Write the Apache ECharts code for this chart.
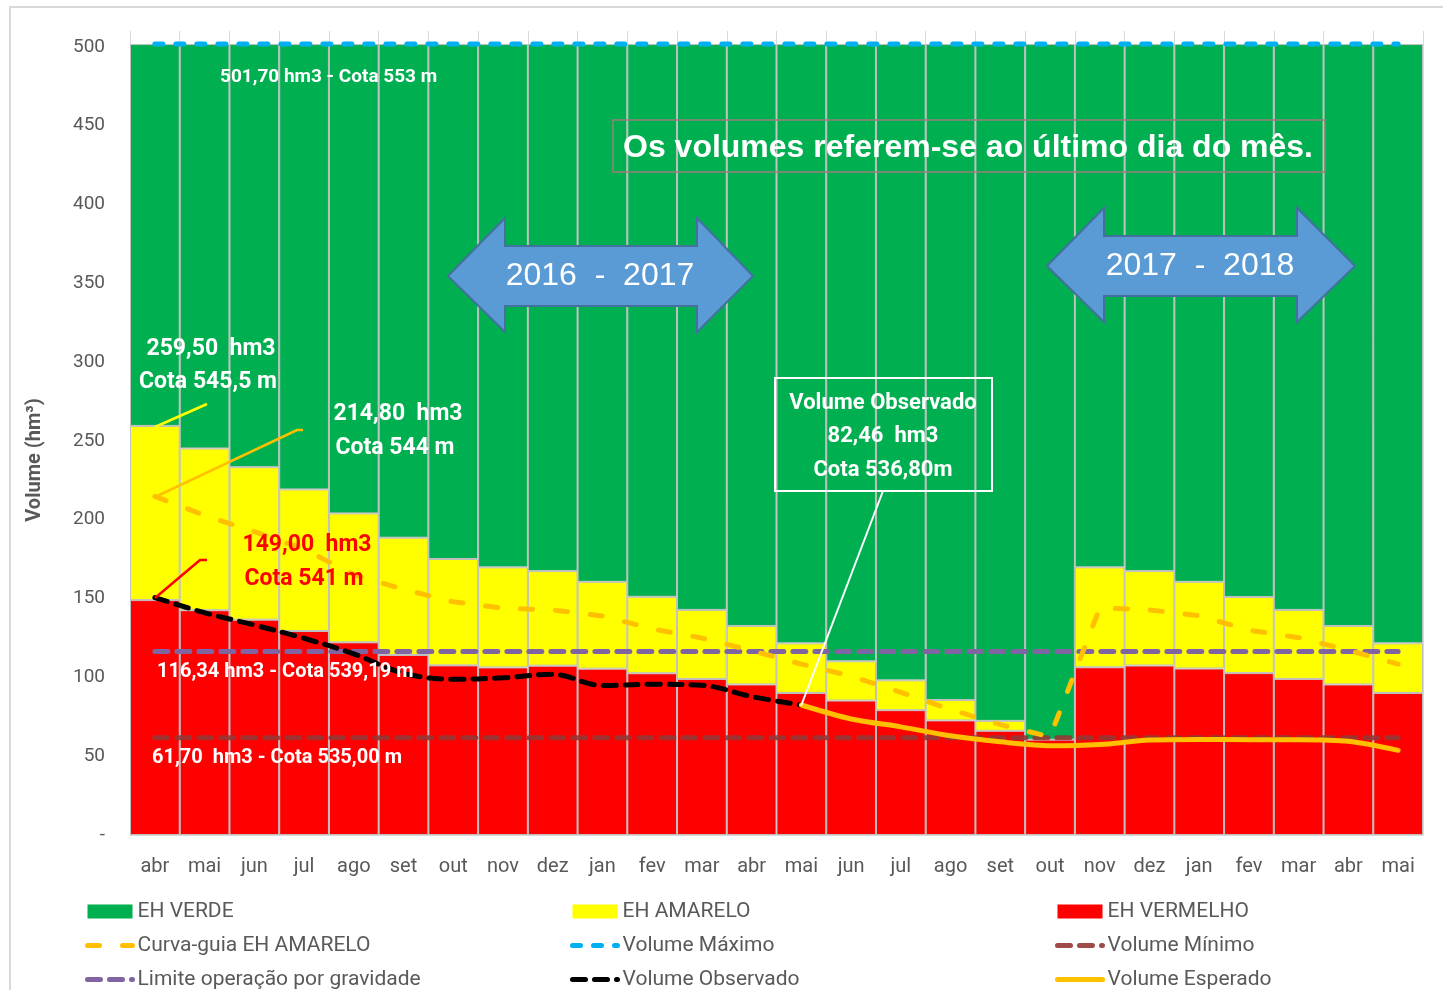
<!DOCTYPE html>
<html>
<head>
<meta charset="utf-8">
<script src="https://cdn.jsdelivr.net/npm/echarts@6/dist/echarts.min.js"></script>
<style>html,body{margin:0;padding:0;background:#fff}#c{width:1443px;height:990px}</style>
</head>
<body>
<div id="c"></div>
<script>
// ---- data ----
const months = ['abr','mai','jun','jul','ago','set','out','nov','dez','jan','fev','mar','abr','mai','jun','jul','ago','set','out','nov','dez','jan','fev','mar','abr','mai'];
// upper limit of the red zone (EH VERMELHO) per month, hm3
const redTop = [149.0,142.6,136.6,129.4,122.2,114.2,107.6,106.3,107.4,105.5,102.6,99.0,95.5,90.1,85.3,79.2,72.7,66.1,60.5,106.4,107.5,105.6,102.7,99.0,95.5,90.1];
// upper limit of the yellow zone (EH AMARELO) per month, hm3
const yellowTop = [259.5,245.2,233.3,219.2,204.0,188.6,175.1,169.8,167.4,160.6,151.1,142.8,132.6,121.6,110.2,98.1,85.6,72.4,60.5,169.8,167.4,160.6,151.0,142.8,132.6,121.6];
const maxVolume = 501.7;
const curvaGuia = [214.8,202.7,192.4,181.4,165.2,155.8,147.9,143.9,142.7,138.9,130.8,124.9,117.0,108.4,100.8,90.5,79.6,70.0,62.3,144.0,142.8,139.1,130.0,125.2,117.2,108.4];
const volMaximo = [501.7,501.7,501.7,501.7,501.7,501.7,501.7,501.7,501.7,501.7,501.7,501.7,501.7,501.7,501.7,501.7,501.7,501.7,501.7,501.7,501.7,501.7,501.7,501.7,501.7,501.7];
const volMinimo = [61.7,61.7,61.7,61.7,61.7,61.7,61.7,61.7,61.7,61.7,61.7,61.7,61.7,61.7,61.7,61.7,61.7,61.7,61.7,61.7,61.7,61.7,61.7,61.7,61.7,61.7];
const limiteGravidade = [116.34,116.34,116.34,116.34,116.34,116.34,116.34,116.34,116.34,116.34,116.34,116.34,116.34,116.34,116.34,116.34,116.34,116.34,116.34,116.34,116.34,116.34,116.34,116.34,116.34,116.34];
const volObservado = [150.6,141.0,133.2,124.8,114.9,102.6,98.8,99.7,102.0,94.8,95.6,95.0,87.8,82.46,null,null,null,null,null,null,null,null,null,null,null,null];
const volEsperado = [null,null,null,null,null,null,null,null,null,null,null,null,null,82.46,73.6,68.6,62.9,59.1,56.6,57.4,60.2,60.6,60.4,60.4,59.4,53.7];
const yTicks = {min: 0, max: 510, interval: 50};

// ---- derived stacks ----
const redSeg = redTop.slice();
const yellowSeg = yellowTop.map((v, i) => +(v - redTop[i]).toFixed(2));
const greenSeg = yellowTop.map(v => +(maxVolume - v).toFixed(2));

const FONT = 'Roboto, "Noto Sans", sans-serif';
const ARIAL = '"Liberation Sans", Arial, sans-serif';
const GREY = '#595959';
const chart = echarts.init(document.getElementById('c'), null, {renderer: 'canvas'});

function txt(text, x, y, fill, size, align, weight, family) {
  return {type: 'text', z: 60, x: x, y: y, style: {text: text, fill: fill,
    font: (weight || 'bold') + ' ' + size + 'px ' + (family || FONT),
    textAlign: align || 'left', textVerticalAlign: 'middle'}};
}
function poly(points, stroke, width) {
  return {type: 'polyline', z: 55, shape: {points: points}, style: {stroke: stroke, lineWidth: width, fill: null}};
}
function arrow(x1, x2, xb1, xb2, cy) {
  return {type: 'polygon', z: 55, shape: {points: [
    [x1, cy], [xb1, cy - 58], [xb1, cy - 30], [xb2, cy - 30], [xb2, cy - 58], [x2, cy],
    [xb2, cy + 56], [xb2, cy + 30], [xb1, cy + 30], [xb1, cy + 56]]},
    style: {fill: '#5B9BD5', stroke: '#41719C', lineWidth: 2}};
}

const barBase = {type: 'bar', stack: 'eh', barCategoryGap: '0%', z: 1};
const dashMain = [13, 9];
const lineNames = ['Curva-guia EH AMARELO', 'Limite operação por gravidade', 'Volume Máximo', 'Volume Observado', 'Volume Mínimo', 'Volume Esperado'];
function legendItems(names) {
  return names.map(n => lineNames.indexOf(n) >= 0
    ? {name: n, itemStyle: {opacity: 0}, lineStyle: {width: 5}}
    : {name: n, icon: 'rect', itemStyle: {borderWidth: 0}});
}
function legendCol(left, names) {
  return {orient: 'vertical', left: left, top: 901, padding: 0, height: 120,
    itemWidth: 45, itemHeight: 14, itemGap: 13,
    data: legendItems(names),
    textStyle: {color: GREY, fontSize: 21, fontFamily: FONT, lineHeight: 21}};
}

const option = {
  backgroundColor: '#ffffff',
  animation: false,
  textStyle: {fontFamily: FONT},
  grid: {left: 130, right: 20, top: 31, bottom: 155},
  xAxis: {type: 'category', data: months, boundaryGap: true,
    axisTick: {show: false},
    axisLine: {show: true, lineStyle: {color: '#D9D9D9'}},
    splitLine: {show: true, lineStyle: {color: '#D9D9D9', width: 1}},
    axisLabel: {color: GREY, fontSize: 20, margin: 22, fontFamily: FONT, interval: 0}},
  yAxis: {type: 'value', min: yTicks.min, max: yTicks.max, interval: yTicks.interval,
    axisLine: {show: false}, axisTick: {show: false}, splitLine: {show: false},
    axisLabel: {color: GREY, fontSize: 19, margin: 25, fontFamily: FONT, showMaxLabel: false,
      formatter: v => v === 0 ? '-' : (v > 500 ? '' : String(v))}},
  legend: [
    legendCol(85, ['EH VERDE', 'Curva-guia EH AMARELO', 'Limite operação por gravidade']),
    legendCol(570, ['EH AMARELO', 'Volume Máximo', 'Volume Observado']),
    legendCol(1055, ['EH VERMELHO', 'Volume Mínimo', 'Volume Esperado'])
  ],
  series: [
    Object.assign({}, barBase, {name: 'EH VERMELHO', data: redSeg, itemStyle: {color: '#FF0000', borderColor: '#BFBFBF', borderWidth: 1}}),
    Object.assign({}, barBase, {name: 'EH AMARELO', data: yellowSeg, itemStyle: {color: '#FFFF00', borderColor: '#BFBFBF', borderWidth: 1}}),
    Object.assign({}, barBase, {name: 'EH VERDE', data: greenSeg, itemStyle: {color: '#00B050', borderColor: '#BFBFBF', borderWidth: 1}}),
    {name: 'Volume Máximo', type: 'line', data: volMaximo, symbol: 'none', z: 5,
      itemStyle: {color: '#00B0F0'},
      lineStyle: {color: '#00B0F0', width: 5, type: [8, 13], cap: 'round'}},
    {name: 'Volume Mínimo', type: 'line', data: volMinimo, symbol: 'none', z: 5,
      itemStyle: {color: '#953735'},
      lineStyle: {color: '#953735', width: 5, type: dashMain, cap: 'round', opacity: 0.9}},
    {name: 'Limite operação por gravidade', type: 'line', data: limiteGravidade, symbol: 'none', z: 5,
      itemStyle: {color: '#8064A2'},
      lineStyle: {color: '#8064A2', width: 5, type: dashMain, cap: 'round'}},
    {name: 'Curva-guia EH AMARELO', type: 'line', data: curvaGuia, symbol: 'none', z: 6,
      itemStyle: {color: '#FFC000'},
      lineStyle: {color: '#FFC000', width: 5, type: [12, 23], cap: 'round'}},
    {name: 'Volume Observado', type: 'line', data: volObservado, symbol: 'none', smooth: 0.35, z: 7,
      itemStyle: {color: '#000000'},
      lineStyle: {color: '#000000', width: 5, type: dashMain, cap: 'round'}},
    {name: 'Volume Esperado', type: 'line', data: volEsperado, symbol: 'none', smooth: 0.3, z: 7,
      itemStyle: {color: '#FFC000'},
      lineStyle: {color: '#FFC000', width: 5, cap: 'round'}}
  ],
  graphic: [
    {type: 'polyline', z: 1, shape: {points: [[10, 990], [10, 7], [1443, 7]]}, style: {stroke: '#D9D9D9', lineWidth: 2, fill: null}},
    Object.assign(txt('Volume (hm³)', 35, 460, GREY, 20, 'center'), {rotation: Math.PI / 2}),
    txt('501,70 hm3 - Cota 553 m', 220, 77, '#ffffff', 19),
    {type: 'rect', z: 55, shape: {x: 613, y: 120, width: 712, height: 52},
      style: {fill: null, stroke: '#A07C7C', lineWidth: 1.5}},
    txt('Os volumes referem-se ao último dia do mês.', 968, 148, '#ffffff', 32, 'center', 'bold', ARIAL),
    arrow(448, 753, 505, 697, 276),
    txt('2016  -  2017', 600, 276, '#ffffff', 32, 'center', 'normal', ARIAL),
    arrow(1047, 1355, 1104, 1297, 266),
    txt('2017  -  2018', 1200, 266, '#ffffff', 32, 'center', 'normal', ARIAL),
    txt('259,50  hm3', 211, 349, '#ffffff', 23, 'center'),
    txt('Cota 545,5 m', 208, 382, '#ffffff', 23, 'center'),
    poly([[155, 427], [207, 404]], '#FFFF00', 2.5),
    txt('214,80  hm3', 398, 414, '#ffffff', 23, 'center'),
    txt('Cota 544 m', 395, 448, '#ffffff', 23, 'center'),
    poly([[155, 497], [297, 430], [303, 430]], '#FFC000', 2.5),
    txt('149,00  hm3', 307, 545, '#FF0000', 23, 'center'),
    txt('Cota 541 m', 304, 579, '#FF0000', 23, 'center'),
    poly([[155, 598], [200, 560], [207, 560]], '#FF0000', 2.5),
    txt('116,34 hm3 - Cota 539,19 m', 157, 672, '#ffffff', 20),
    txt('61,70  hm3 - Cota 535,00 m', 152, 758, '#ffffff', 20),
    {type: 'rect', z: 55, shape: {x: 775, y: 378, width: 217, height: 113},
      style: {fill: null, stroke: '#ffffff', lineWidth: 2}},
    txt('Volume Observado', 883, 403, '#ffffff', 22, 'center'),
    txt('82,46  hm3', 883, 436, '#ffffff', 22, 'center'),
    txt('Cota 536,80m', 883, 470, '#ffffff', 22, 'center'),
    poly([[801, 706], [883, 491]], '#ffffff', 2)
  ]
};
chart.setOption(option);
</script>
</body>
</html>
